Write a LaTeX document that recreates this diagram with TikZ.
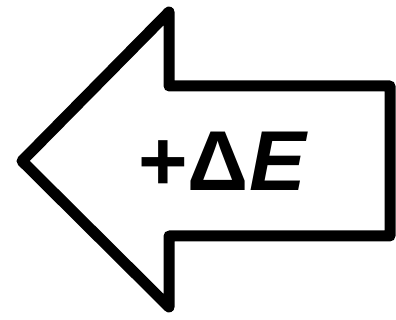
\documentclass[tikz,border=0pt]{standalone}
\usepackage{fontspec}
\setmainfont{Liberation Sans}
\begin{document}
\begin{tikzpicture}[x=1pt,y=-1pt,
  arrowline/.style={line width=11pt,line join=round,line cap=round,draw=black,fill=white},
  label/.style={font=\fontsize{85}{90}\selectfont\bfseries,inner sep=0pt}]
\useasboundingbox (0,0) rectangle (396,320);
\coordinate (tip) at (22,161);
\coordinate (ht) at (169,12);
\coordinate (it) at (169,86);
\coordinate (rt) at (390,86);
\coordinate (rb) at (390,236);
\coordinate (ib) at (169,236);
\coordinate (hb) at (169,307);
\draw[arrowline] (tip) -- (ht) -- (it) -- (rt) -- (rb) -- (ib) -- (hb) -- cycle;
\node[label,anchor=base] (t) at (222,191) {+Δ\itshape E};
\end{tikzpicture}
\end{document}
